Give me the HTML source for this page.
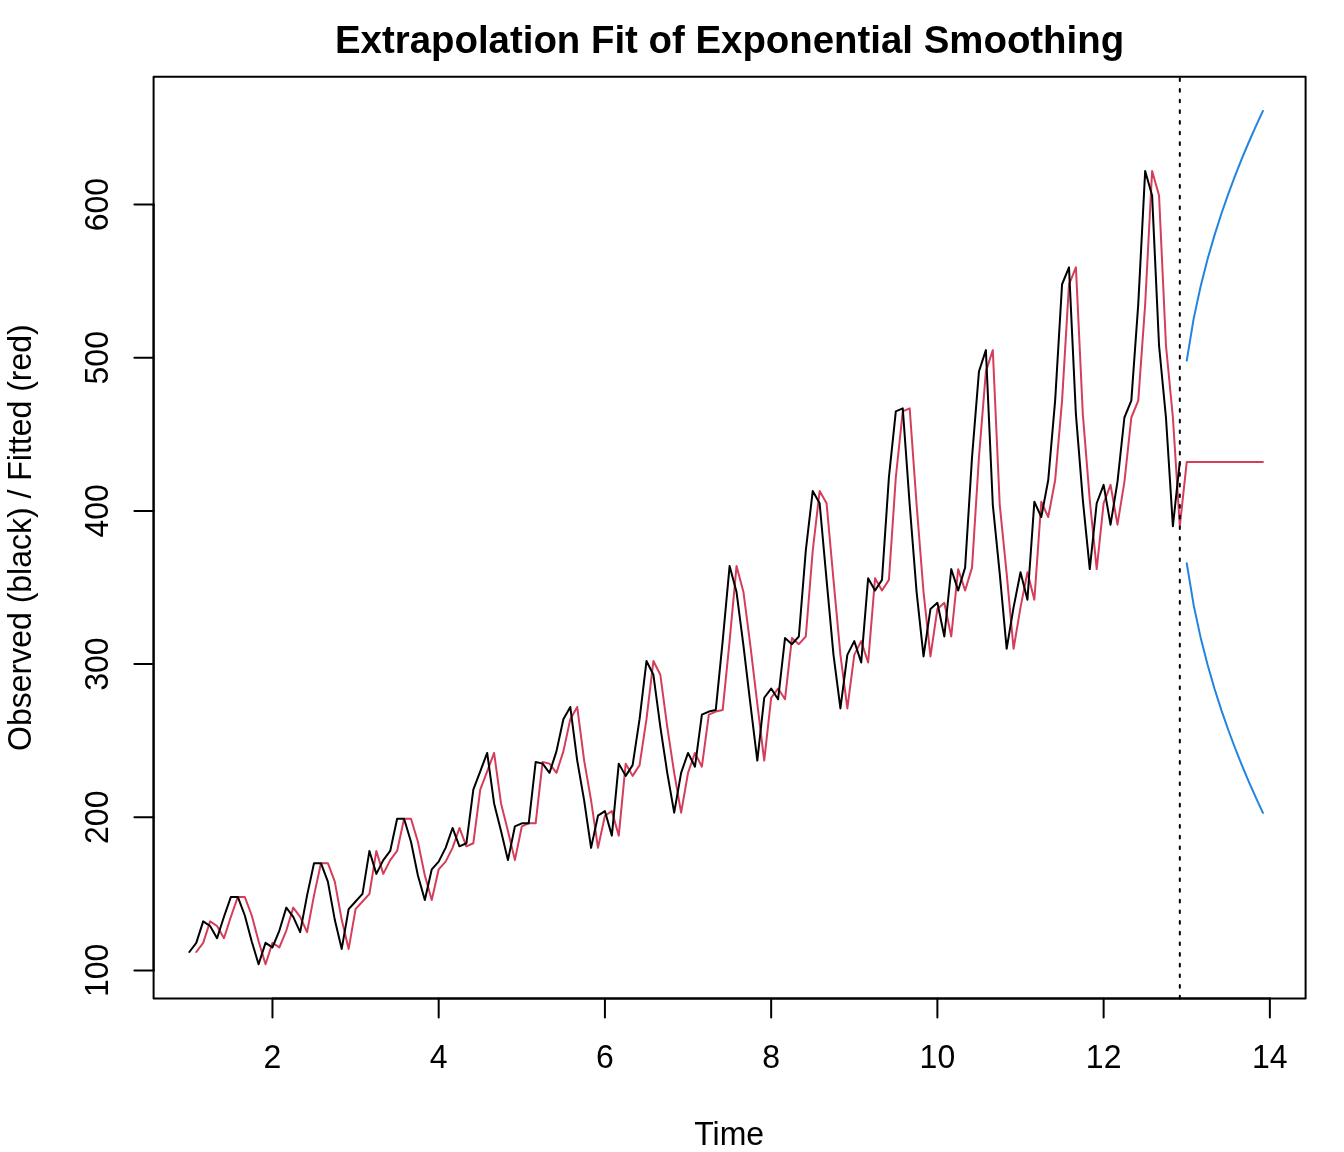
<!DOCTYPE html>
<html><head><meta charset="utf-8"><title>Extrapolation Fit of Exponential Smoothing</title>
<style>
html,body{margin:0;padding:0;background:#fff;}
body{width:1344px;height:1152px;overflow:hidden;}
svg{display:block;will-change:transform;}
text{font-family:"Liberation Sans",sans-serif;fill:#000;}
.t{font-size:32px;}
.b{font-size:38.4px;font-weight:bold;}
</style></head><body>
<svg width="1344" height="1152" viewBox="0 0 1344 1152">
<rect x="0" y="0" width="1344" height="1152" fill="#ffffff"/>

<g fill="none" stroke-width="2" stroke-linecap="round" stroke-linejoin="round">
<path d="M196.27 952.01 L203.19 942.83 L210.12 921.38 L217.05 925.98 L223.97 938.23 L230.90 916.79 L237.83 896.88 L244.75 896.88 L251.68 915.26 L258.60 941.29 L265.53 964.27 L272.46 942.83 L279.38 947.42 L286.31 930.57 L293.24 907.60 L300.16 916.79 L307.09 932.10 L314.02 895.35 L320.94 863.19 L327.87 863.18 L334.79 881.56 L341.72 919.85 L348.65 948.95 L355.57 909.13 L362.50 901.47 L369.43 893.82 L376.35 850.93 L383.28 873.90 L390.21 860.12 L397.13 850.93 L404.06 818.77 L410.99 818.77 L417.91 841.74 L424.84 875.43 L431.76 899.94 L438.69 869.31 L445.62 861.65 L452.54 847.87 L459.47 827.96 L466.40 846.33 L473.32 843.27 L480.25 789.67 L487.18 771.29 L494.10 752.91 L501.03 803.45 L507.95 831.02 L514.88 860.12 L521.81 826.43 L528.73 823.36 L535.66 823.36 L542.59 762.10 L549.51 763.63 L556.44 772.82 L563.37 751.38 L570.29 719.22 L577.22 706.96 L584.15 760.56 L591.07 800.39 L598.00 847.86 L604.92 815.71 L611.85 811.11 L618.78 835.61 L625.70 763.64 L632.63 775.88 L639.56 765.16 L646.48 719.22 L653.41 661.02 L660.34 674.80 L667.26 726.87 L674.19 772.82 L681.12 812.64 L688.04 772.82 L694.97 752.91 L701.89 766.69 L708.82 714.62 L715.75 711.56 L722.67 710.03 L729.60 641.11 L736.53 566.06 L743.45 592.09 L750.38 645.70 L757.31 703.90 L764.23 760.56 L771.16 697.78 L778.08 688.58 L785.01 699.30 L791.94 638.05 L798.86 644.17 L805.79 636.51 L812.72 550.75 L819.64 491.02 L826.57 503.26 L833.50 579.84 L840.42 654.88 L847.35 708.49 L854.28 654.89 L861.20 641.11 L868.13 662.55 L875.05 578.32 L881.98 590.56 L888.91 579.84 L895.83 477.23 L902.76 411.37 L909.69 408.31 L916.61 504.79 L923.54 592.09 L930.47 656.42 L937.39 608.95 L944.32 602.82 L951.25 636.51 L958.17 569.13 L965.10 590.56 L972.02 567.59 L978.95 457.32 L985.88 371.56 L992.80 350.11 L999.73 504.79 L1006.66 573.71 L1013.58 648.76 L1020.51 607.41 L1027.44 572.19 L1034.36 599.75 L1041.29 501.74 L1048.21 517.05 L1055.14 480.29 L1062.07 400.65 L1068.99 284.26 L1075.92 267.40 L1082.85 414.42 L1089.77 500.20 L1096.70 569.12 L1103.63 503.27 L1110.55 484.89 L1117.48 524.70 L1124.41 481.83 L1131.33 417.50 L1138.26 400.65 L1145.18 304.17 L1152.11 170.92 L1159.04 195.42 L1165.96 345.50 L1172.89 417.49 L1179.82 526.23 L1186.74 461.92 L1193.67 461.92 L1200.60 461.92 L1207.52 461.92 L1214.45 461.92 L1221.37 461.92 L1228.30 461.92 L1235.23 461.92 L1242.15 461.92 L1249.08 461.92 L1256.01 461.92 L1262.93 461.92" stroke="#D53E5A"/>
<path d="M1186.74 360.59 L1193.67 318.62 L1200.60 286.42 L1207.52 259.27 L1214.45 235.36 L1221.37 213.73 L1228.30 193.85 L1235.23 175.34 L1242.15 157.96 L1249.08 141.51 L1256.01 125.88 L1262.93 110.93" stroke="#2284E0"/>
<path d="M1186.74 563.24 L1193.67 605.21 L1200.60 637.41 L1207.52 664.56 L1214.45 688.48 L1221.37 710.10 L1228.30 729.99 L1235.23 748.49 L1242.15 765.88 L1249.08 782.32 L1256.01 797.96 L1262.93 812.90" stroke="#2284E0"/>
<path d="M189.34 952.01 L196.27 942.82 L203.19 921.38 L210.12 925.98 L217.05 938.23 L223.97 916.79 L230.90 896.88 L237.83 896.88 L244.75 915.26 L251.68 941.29 L258.60 964.27 L265.53 942.82 L272.46 947.42 L279.38 930.57 L286.31 907.60 L293.24 916.79 L300.16 932.10 L307.09 895.35 L314.02 863.18 L320.94 863.18 L327.87 881.56 L334.79 919.85 L341.72 948.95 L348.65 909.13 L355.57 901.47 L362.50 893.81 L369.43 850.93 L376.35 873.90 L383.28 860.12 L390.21 850.93 L397.13 818.77 L404.06 818.77 L410.99 841.74 L417.91 875.44 L424.84 899.94 L431.76 869.31 L438.69 861.65 L445.62 847.87 L452.54 827.96 L459.47 846.34 L466.40 843.27 L473.32 789.67 L480.25 771.29 L487.18 752.91 L494.10 803.45 L501.03 831.02 L507.95 860.12 L514.88 826.43 L521.81 823.36 L528.73 823.36 L535.66 762.10 L542.59 763.63 L549.51 772.82 L556.44 751.38 L563.37 719.22 L570.29 706.96 L577.22 760.57 L584.15 800.39 L591.07 847.87 L598.00 815.70 L604.92 811.11 L611.85 835.61 L618.78 763.63 L625.70 775.88 L632.63 765.16 L639.56 719.22 L646.48 661.02 L653.41 674.80 L660.34 726.87 L667.26 772.82 L674.19 812.64 L681.12 772.82 L688.04 752.91 L694.97 766.69 L701.89 714.62 L708.82 711.56 L715.75 710.03 L722.67 641.11 L729.60 566.06 L736.53 592.10 L743.45 645.70 L750.38 703.90 L757.31 760.57 L764.23 697.77 L771.16 688.58 L778.08 699.31 L785.01 638.04 L791.94 644.17 L798.86 636.51 L805.79 550.74 L812.72 491.01 L819.64 503.26 L826.57 579.84 L833.50 654.89 L840.42 708.49 L847.35 654.89 L854.28 641.11 L861.20 662.55 L868.13 578.31 L875.05 590.56 L881.98 579.84 L888.91 477.23 L895.83 411.37 L902.76 408.31 L909.69 504.80 L916.61 592.10 L923.54 656.42 L930.47 608.94 L937.39 602.82 L944.32 636.51 L951.25 569.12 L958.17 590.56 L965.10 567.59 L972.02 457.32 L978.95 371.55 L985.88 350.11 L992.80 504.80 L999.73 573.72 L1006.66 648.76 L1013.58 607.41 L1020.51 572.19 L1027.44 599.75 L1034.36 501.73 L1041.29 517.05 L1048.21 480.29 L1055.14 400.65 L1062.07 284.25 L1068.99 267.40 L1075.92 414.43 L1082.85 500.20 L1089.77 569.12 L1096.70 503.26 L1103.63 484.89 L1110.55 524.71 L1117.48 481.82 L1124.41 417.50 L1131.33 400.65 L1138.26 304.16 L1145.18 170.91 L1152.11 195.42 L1159.04 345.51 L1165.96 417.50 L1172.89 526.24 L1179.82 461.91" stroke="#000"/>
<path d="M1179.82 998.40 L1179.82 76.80" stroke="#000" stroke-dasharray="2.667 8"/>
<path d="M272.46 998.40 L1269.86 998.40" stroke="#000"/>
<path d="M272.46 998.40 L272.46 1017.60" stroke="#000"/>
<path d="M438.69 998.40 L438.69 1017.60" stroke="#000"/>
<path d="M604.92 998.40 L604.92 1017.60" stroke="#000"/>
<path d="M771.16 998.40 L771.16 1017.60" stroke="#000"/>
<path d="M937.39 998.40 L937.39 1017.60" stroke="#000"/>
<path d="M1103.63 998.40 L1103.63 1017.60" stroke="#000"/>
<path d="M1269.86 998.40 L1269.86 1017.60" stroke="#000"/>
<path d="M153.60 970.39 L153.60 204.61" stroke="#000"/>
<path d="M153.60 970.39 L134.40 970.39" stroke="#000"/>
<path d="M153.60 817.24 L134.40 817.24" stroke="#000"/>
<path d="M153.60 664.08 L134.40 664.08" stroke="#000"/>
<path d="M153.60 510.92 L134.40 510.92" stroke="#000"/>
<path d="M153.60 357.77 L134.40 357.77" stroke="#000"/>
<path d="M153.60 204.61 L134.40 204.61" stroke="#000"/>
<path d="M153.60 998.40 L1305.60 998.40 L1305.60 76.80 L153.60 76.80 Z" stroke="#000"/>
</g>
<text class="t" transform="translate(272.46 1068) scale(1 1.05)" text-anchor="middle">2</text>
<text class="t" transform="translate(438.69 1068) scale(1 1.05)" text-anchor="middle">4</text>
<text class="t" transform="translate(604.92 1068) scale(1 1.05)" text-anchor="middle">6</text>
<text class="t" transform="translate(771.16 1068) scale(1 1.05)" text-anchor="middle">8</text>
<text class="t" transform="translate(937.39 1068) scale(1 1.05)" text-anchor="middle">10</text>
<text class="t" transform="translate(1103.63 1068) scale(1 1.05)" text-anchor="middle">12</text>
<text class="t" transform="translate(1269.86 1068) scale(1 1.05)" text-anchor="middle">14</text>
<text class="t" transform="translate(107.7 970.39) rotate(-90) scale(1 1.05)" text-anchor="middle">100</text>
<text class="t" transform="translate(107.7 817.24) rotate(-90) scale(1 1.05)" text-anchor="middle">200</text>
<text class="t" transform="translate(107.7 664.08) rotate(-90) scale(1 1.05)" text-anchor="middle">300</text>
<text class="t" transform="translate(107.7 510.92) rotate(-90) scale(1 1.05)" text-anchor="middle">400</text>
<text class="t" transform="translate(107.7 357.77) rotate(-90) scale(1 1.05)" text-anchor="middle">500</text>
<text class="t" transform="translate(107.7 204.61) rotate(-90) scale(1 1.05)" text-anchor="middle">600</text>
<text id="title" class="b" x="729.6" y="52.5" text-anchor="middle">Extrapolation Fit of Exponential Smoothing</text>
<text id="time" class="t" transform="translate(729.2 1144.6) scale(1 1.05)" text-anchor="middle">Time</text>
<text id="ylab" class="t" transform="translate(30.7 537.6) rotate(-90) scale(1 1.05)" text-anchor="middle">Observed (black) / Fitted (red)</text>
</svg></body></html>
